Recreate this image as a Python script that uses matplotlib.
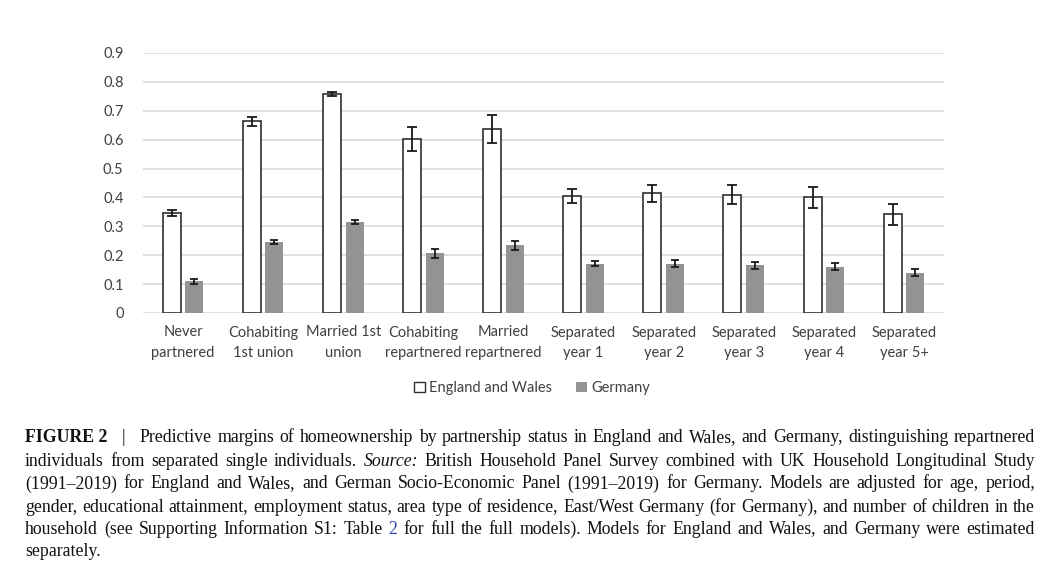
"""Predictive margins of homeownership by partnership status (England and Wales vs Germany)."""
import matplotlib
matplotlib.use("Agg")
import matplotlib.pyplot as plt
import matplotlib.patches as mpatches
import numpy as np

# data
categories = ["Never\npartnered", "Cohabiting\n1st union", "Married 1st\nunion",
              "Cohabiting\nrepartnered", "Married\nrepartnered", "Separated\nyear 1",
              "Separated\nyear 2", "Separated\nyear 3", "Separated\nyear 4", "Separated\nyear 5+"]
england = [0.347, 0.663, 0.758, 0.602, 0.637, 0.405, 0.414, 0.410, 0.400, 0.341]
england_err = [0.010, 0.015, 0.008, 0.042, 0.047, 0.025, 0.029, 0.032, 0.035, 0.037]
germany = [0.110, 0.247, 0.315, 0.206, 0.234, 0.171, 0.170, 0.166, 0.160, 0.140]
germany_err = [0.009, 0.007, 0.006, 0.016, 0.016, 0.010, 0.012, 0.012, 0.012, 0.011]
yticks = [0, 0.1, 0.2, 0.3, 0.4, 0.5, 0.6, 0.7, 0.8, 0.9]
series_names = ["England and Wales", "Germany"]

# caption lines: list of (text, style) segments per line
caption = [
    [("FIGURE 2", "b"), ("|", "sep"),
     ("Predictive margins of homeownership by partnership status in England and Wales, "
      "and Germany, distinguishing repartnered", "n")],
    [("individuals from separated single individuals.", "n"), ("Source:", "i"),
     ("British Household Panel Survey combined with UK Household Longitudinal Study", "n")],
    [("(1991\u20132019) for England and Wales, and German Socio-Economic Panel (1991\u20132019) "
      "for Germany. Models are adjusted for age, period,", "n")],
    [("gender, educational attainment, employment status, area type of residence, "
      "East/West Germany (for Germany), and number of children in the", "n")],
    [("household (see Supporting Information S1: Table", "n"), ("2", "blue"),
     ("for full the full models). Models for England and Wales, and Germany were estimated", "n")],
    [("separately.", "n")],
]

W, H, DPI = 1062, 586, 100
SANS = ["Lato", "DejaVu Sans"]
SERIF = ["Liberation Serif", "DejaVu Serif"]
GRID = "#d9d9d9"
LABEL = "#404040"

fig = plt.figure(figsize=(W / DPI, H / DPI), dpi=DPI)
fig.patch.set_facecolor("white")
ax = fig.add_axes([143 / W, 1 - 313 / H, (944 - 143) / W, (313 - 53) / H])

x = np.arange(len(categories))
bw = 0.225
off = 0.141
ax.bar(x - off, england, bw, color="white", edgecolor="#303030", linewidth=1.2, zorder=2)
ax.bar(x + off, germany, bw, color="#939393", edgecolor="none", zorder=2)
ax.errorbar(x - off, england, yerr=england_err, fmt="none", ecolor="#1a1a1a",
            elinewidth=1.3, capsize=3.5, capthick=1.3, zorder=3)
ax.errorbar(x + off, germany, yerr=germany_err, fmt="none", ecolor="#1a1a1a",
            elinewidth=1.3, capsize=3.0, capthick=1.3, zorder=3)

ax.set_xlim(-0.5, len(categories) - 0.5)
ax.set_ylim(0, 0.9)
ax.set_yticks(yticks)
ax.set_yticklabels([f"{v:g}" for v in yticks], family=SANS, fontsize=10.5, color=LABEL)
ax.set_xticks(x)
ax.set_xticklabels(categories, family=SANS, fontsize=10.5, color=LABEL, linespacing=1.55)
ax.tick_params(axis="both", length=0)
ax.tick_params(axis="y", pad=14)
ax.tick_params(axis="x", pad=9)
ax.yaxis.grid(True, color=GRID, linewidth=1.2, zorder=0)
ax.set_axisbelow(True)
for s in ax.spines.values():
    s.set_visible(False)

handles = [mpatches.Patch(facecolor="white", edgecolor="#303030", linewidth=1.0),
           mpatches.Patch(facecolor="#939393", edgecolor="none")]
fig.legend(handles, series_names, loc="center", bbox_to_anchor=(532 / W, 1 - 388 / H),
           ncol=2, frameon=False, handlelength=0.75, handleheight=0.75, handletextpad=0.3,
           columnspacing=1.6, prop={"family": SANS, "size": 10.5}, labelcolor=LABEL)

# caption, justified like the journal layout
STYLES = {"n": {}, "sep": {}, "b": {"weight": "bold"}, "i": {"style": "italic"},
          "blue": {"color": "#2a3fb0"}}
renderer = fig.canvas.get_renderer()
x0, x1 = 25, 1035
y_lines = [438, 461, 484, 507, 529, 552]
for i, (line, yl) in enumerate(zip(caption, y_lines)):
    words = []
    for seg, st in line:
        if st in ("b", "sep"):
            words.append((seg, st))
        else:
            words += [(w, st) for w in seg.split()]
    texts = []
    for w, st in words:
        props = dict(family=SERIF, fontsize=12.8, color="#111111", va="center", ha="left")
        props.update(STYLES[st])
        texts.append(fig.text(0, 1 - yl / H, w, **props))
    widths = [t.get_window_extent(renderer).width for t in texts]
    # wide space either side of the "|" separator
    extra = [9.0 if st in ("b", "sep") else 0.0 for _, st in words]
    last = i == len(caption) - 1
    if last or len(texts) < 2:
        gap = 4.0
    else:
        gap = (x1 - x0 - sum(widths) - sum(extra[:-1])) / (len(texts) - 1)
    pos = x0
    for t, wd, ex in zip(texts, widths, extra):
        t.set_x(pos / W)
        pos += wd + gap + ex

fig.savefig("out.png", dpi=DPI, facecolor="white")
